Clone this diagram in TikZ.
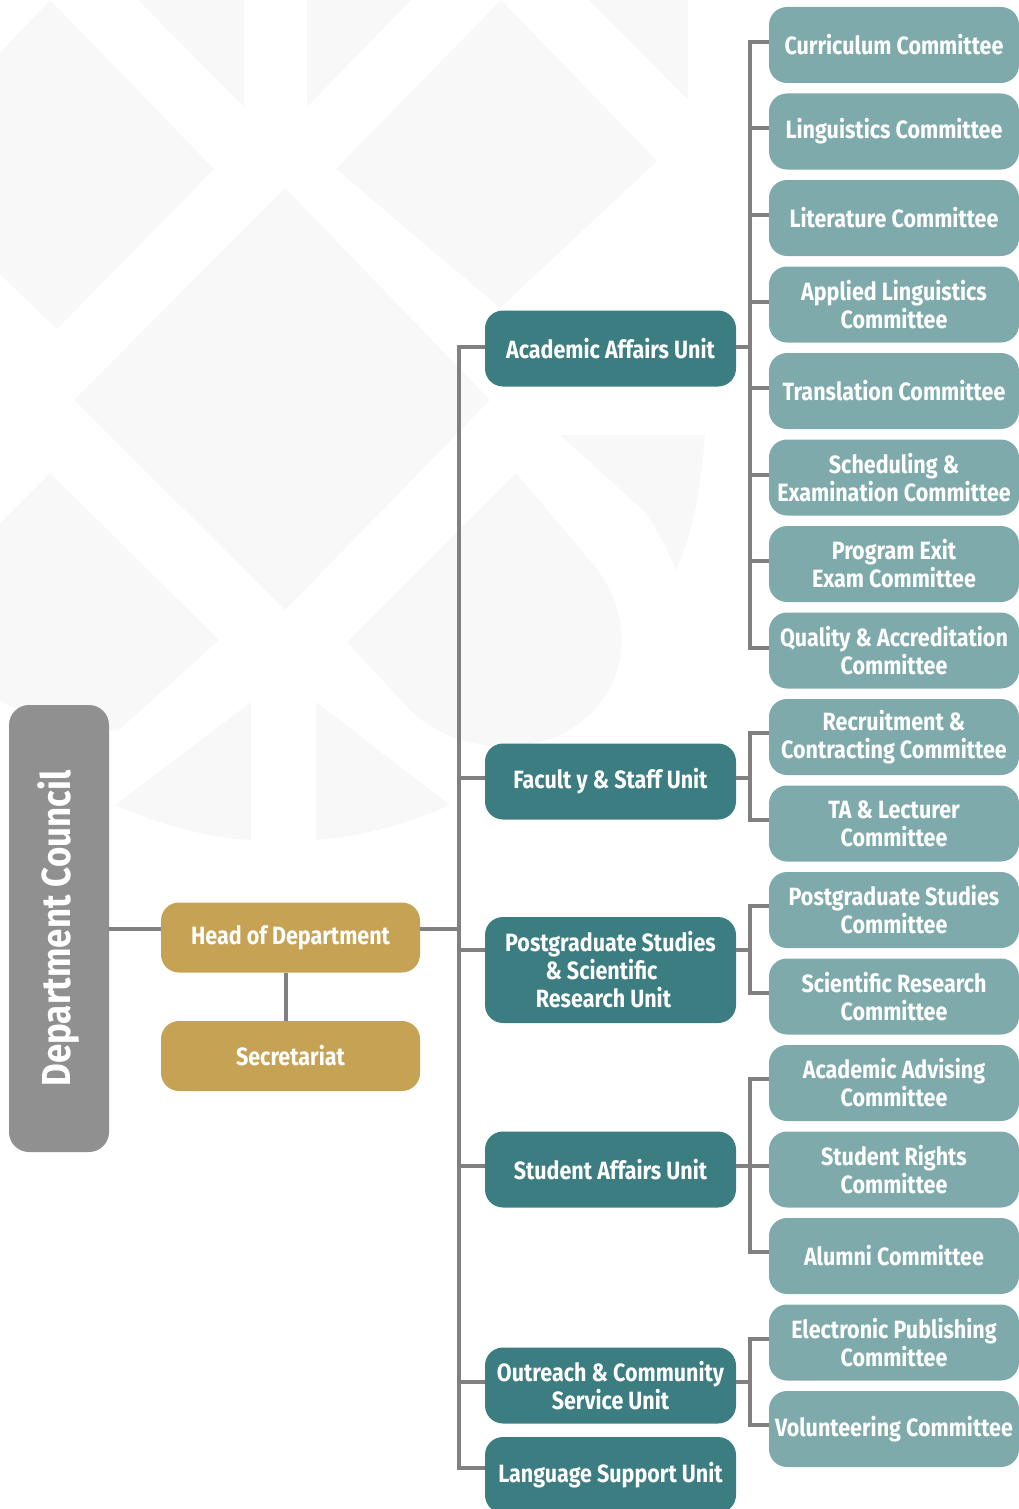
\documentclass[tikz,border=0pt]{standalone}
\usepackage{fontspec}
\setmainfont{Fira Sans}[FakeStretch=0.86]
\usepackage{tikz}
\definecolor{councilgray}{HTML}{8F908F}
\definecolor{headgold}{HTML}{C6A254}
\definecolor{unitteal}{HTML}{3C7D81}
\definecolor{commteal}{HTML}{7FAAAB}
\definecolor{linkgray}{HTML}{808080}
\definecolor{wmgray}{HTML}{F8F8F8}

\begin{document}
\begin{tikzpicture}[x=1pt,y=-1pt,node distance=86.5pt,line join=miter,
	box/.style={rounded corners=18pt,text=white,align=center,inner sep=0pt,font=\bfseries\fontsize{25}{28}\selectfont},
	council node/.style={box,fill=councilgray,minimum width=100pt,minimum height=447pt,rounded corners=20pt,font=\bfseries\fontsize{40.5}{44}\selectfont},
	head node/.style={box,fill=headgold,minimum width=259pt,minimum height=70pt},
	unit node/.style={box,fill=unitteal,minimum width=251pt,minimum height=76pt},
	comm node/.style={box,fill=commteal,minimum width=250pt,minimum height=76pt},
	link/.style={draw=linkgray,line width=4pt},
	wm/.style={fill=wmgray}]
	
	\useasboundingbox (0,0) rectangle (1019,1509);
	\clip (0,0) rectangle (1019,1509);
	
	% faint watermark
	\fill[wm] (50,0) -- (214,169) -- (57,329) -- (-110,169) -- cycle;
	\fill[wm] (285,188) -- (490,400) -- (285,610) -- (74,400) -- cycle;
	\fill[wm] (501,0) -- (657,161) -- (500,308) -- (336,169) -- cycle;
	\fill[wm] (138,0) -- (244,0) -- (244,107) -- cycle;
	\fill[wm] (307,0) -- (411,0) -- (307,107) -- cycle;
	\fill[wm] (589,0) -- (688,0) -- (688,100) -- cycle;
	\fill[wm] (0,523) -- (50,473) -- (219,640) -- (119,730) .. controls (80,735) and (30,720) .. (0,700) -- cycle;
	\fill[wm] (516,473) -- (592,563) .. controls (640,620) and (630,700) .. (560,735) .. controls (500,760) and (440,740) .. (410,710) -- (347,642) -- cycle;
	\fill[wm] (560,435) -- (705,435) .. controls (700,500) and (690,540) .. (676,570) .. controls (665,545) and (655,525) .. (643,510) -- cycle;
	\fill[wm] (251,702) -- (115,805) .. controls (160,825) and (205,837) .. (251,840) -- cycle;
	\fill[wm] (316,702) -- (450,805) .. controls (405,825) and (360,837) .. (316,840) -- cycle;
	
	\node[council node] (council) at (59,928.5) {\rotatebox{90}{Department Council}};
	\node[head node] (hod) at (290.5,937.5) {Head of Department};
	\node[head node] (sec) at (290.5,1056) {Secretariat};
	
	\node[unit node] (aau) at (610.5,348.5) {Academic Affairs Unit};
	\node[unit node] (fsu) at (610.5,781.5) {Facult y \& Staff Unit};
	\node[unit node, minimum height=106pt] (pgu) at (610.5,970) {Postgraduate Studies\\\& Scientific\hspace*{18pt}\mbox{}\\Research Unit\hspace*{14pt}};
	\node[unit node] (sau) at (610.5,1169.5) {Student Affairs Unit};
	\node[unit node] (ocu) at (610.5,1385.5) {Outreach \& Community\\Service Unit};
	\node[unit node] (lsu) at (610.5,1475) {Language Support Unit};
	
	\node[comm node] (c1) at (894,45) {Curriculum Committee};
	\node[comm node] (c2) [below of=c1] {Linguistics Committee};
	\node[comm node] (c3) [below of=c2] {Literature Committee};
	\node[comm node] (c4) [below of=c3] {Applied Linguistics\\Committee};
	\node[comm node] (c5) [below of=c4] {Translation Committee};
	\node[comm node] (c6) [below of=c5] {Scheduling \&\\Examination Committee};
	\node[comm node] (c7) [below of=c6] {Program Exit\\Exam Committee};
	\node[comm node] (c8) [below of=c7] {Quality \& Accreditation\\Committee};
	\node[comm node] (c9) [below of=c8] {Recruitment \&\\Contracting Committee};
	\node[comm node] (c10) [below of=c9] {TA \& Lecturer\\Committee};
	\node[comm node] (c11) [below of=c10] {Postgraduate Studies\\Committee};
	\node[comm node] (c12) [below of=c11] {Scientific Research\\Committee};
	\node[comm node] (c13) [below of=c12] {Academic Advising\\Committee};
	\node[comm node] (c14) [below of=c13] {Student Rights\\Committee};
	\node[comm node] (c15) [below of=c14] {Alumni Committee};
	\node[comm node] (c16) [below of=c15] {Electronic Publishing\\Committee};
	\node[comm node] (c17) [below of=c16] {Volunteering Committee};
	
	\coordinate (hj) at (459,928.5);
	\draw[link] (council.east) -- (hod.west |- council.east);
	\draw[link] (hod.east |- council.east) -- (hj);
	\draw[link] ([xshift=-5pt]hod.south) -- ([xshift=-5pt]sec.north);
	
	\draw[link] (hj) |- ([yshift=2pt]aau.west);
	\draw[link] (hj) |- ([yshift=4pt]fsu.west);
	\draw[link] (hj) |- ([yshift=20pt]pgu.west);
	\draw[link] (hj) |- ([yshift=4pt]sau.west);
	\draw[link] (hj) |- ([yshift=4pt]ocu.west);
	\draw[link] (hj) |- ([yshift=7pt]lsu.west);
	
	\foreach \c in {1,...,8}
	\draw[link] ([yshift=2pt]aau.east) -- ++(14,0) |- ([yshift=3pt]c\c.west);
	\foreach \c in {9,10}
	\draw[link] ([yshift=4pt]fsu.east) -- ++(14,0) |- ([yshift=4pt]c\c.west);
	\foreach \c in {11,12}
	\draw[link] ([yshift=20pt]pgu.east) -- ++(14,0) |- ([yshift=4pt]c\c.west);
	\foreach \c in {13,14,15}
	\draw[link] ([yshift=4pt]sau.east) -- ++(14,0) |- ([yshift=4pt]c\c.west);
	\foreach \c in {16,17}
	\draw[link] ([yshift=4pt]ocu.east) -- ++(14,0) |- ([yshift=4pt]c\c.west);
	
\end{tikzpicture}
\end{document}
